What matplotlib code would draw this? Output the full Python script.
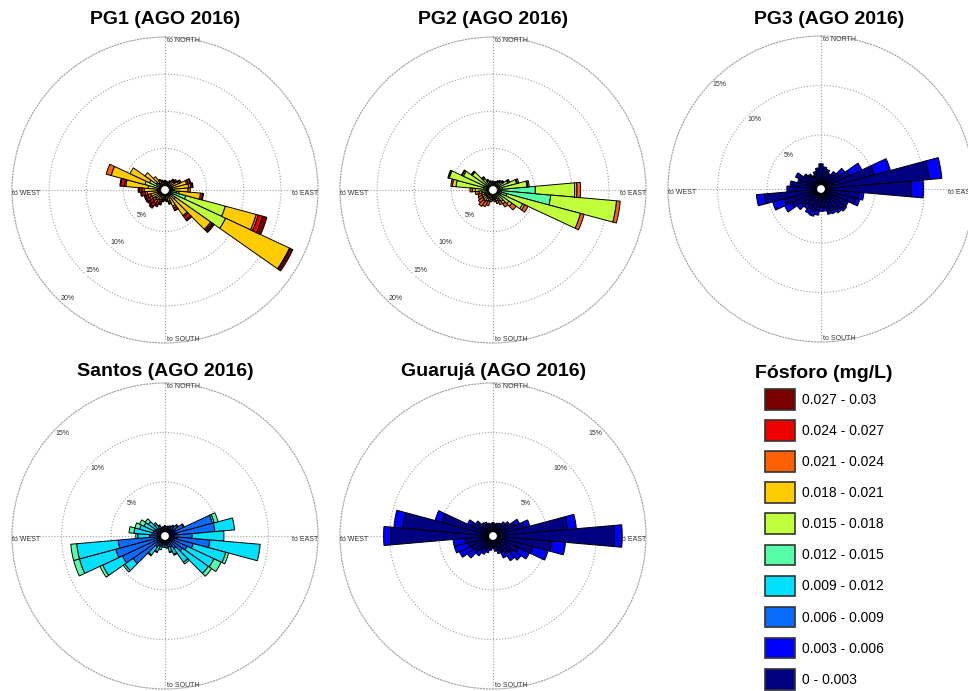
import numpy as np
import matplotlib
matplotlib.use('Agg')
import matplotlib.pyplot as plt
from matplotlib.patches import Patch

plt.rcParams['font.family'] = ['Liberation Sans', 'DejaVu Sans']

# phosphorus classes, low -> high
CLASS_LABELS = ['0 - 0.003', '0.003 - 0.006', '0.006 - 0.009', '0.009 - 0.012', '0.012 - 0.015',
                '0.015 - 0.018', '0.018 - 0.021', '0.021 - 0.024', '0.024 - 0.027', '0.027 - 0.03']
CLASS_COLORS = ['#000080', '#0000FF', '#0A6CFF', '#00E0FF', '#55FFAA',
                '#C0FF3C', '#FFCC00', '#FF6000', '#EE0000', '#7A0000']

# 36 sectors, compass degrees (direction "to")
DIRECTIONS = np.arange(0, 360, 10)

# frequency (%) per class and sector, one row per class used
PG1_CLASSES = [4, 5, 6, 7, 8, 9]
PG1 = [
    [0, 0, 0, 0, 0, 0, 0, 0, 0, 0.3, 1.0, 2.3, 0.5, 0.3, 0, 0, 0, 0,
     0, 0, 0, 0, 0, 0, 0, 0, 0, 0, 0.2, 0.2, 0.2, 0, 0, 0, 0, 0],
    [0.1, 0.1, 0.1, 0.1, 0.2, 0.2, 0.3, 0.4, 0.4, 0.3, 0.3, 5.5, 7.9, 0.8, 0.4, 0.2, 0.1, 0.1,
     0.1, 0.1, 0.2, 0.2, 0.2, 0.2, 0.3, 0.3, 0.4, 0.5, 1.5, 2.0, 1.5, 0.8, 0.5, 0.2, 0.1, 0.1],
    [0.4, 0.4, 0.3, 0.5, 0.7, 0.8, 1.1, 2.0, 2.2, 1.9, 2.9, 4.3, 9.5, 5.8, 3.2, 1.6, 0.9, 0.6,
     0.4, 0.5, 0.6, 0.7, 0.9, 0.8, 1.0, 1.1, 1.4, 1.7, 3.0, 4.7, 2.9, 1.9, 1.1, 0.7, 0.5, 0.4],
    [0.1, 0, 0.1, 0.1, 0.2, 0.2, 0.2, 0.2, 0.3, 0.3, 0, 0.3, 0, 0.2, 0.2, 0.3, 0.2, 0.1,
     0.1, 0.2, 0.3, 0.4, 0.5, 0.4, 0.4, 0.4, 0.3, 0.3, 0.2, 0.7, 0, 0, 0, 0.1, 0.1, 0.1],
    [0.1, 0.1, 0, 0.1, 0.1, 0.2, 0.2, 0.3, 0.2, 0, 0.3, 0.6, 0.1, 0.2, 0.5, 0.3, 0.1, 0.1,
     0.1, 0.1, 0.3, 0.4, 0.5, 0.5, 0.4, 0.3, 0.4, 0.4, 0.5, 0, 0, 0, 0, 0, 0.1, 0],
    [0, 0, 0, 0, 0, 0, 0, 0.1, 0.1, 0, 0.1, 0.6, 0.4, 0.2, 0.2, 0.1, 0.1, 0.1,
     0.1, 0.1, 0.1, 0.2, 0.3, 0.3, 0.2, 0.2, 0.2, 0.1, 0.1, 0, 0, 0, 0, 0, 0, 0],
]

PG2_CLASSES = [3, 4, 5, 6, 7]
PG2 = [
    [0, 0, 0, 0, 0, 0, 0, 0, 0.2, 0.3, 0.5, 0.3, 0, 0, 0, 0, 0, 0,
     0, 0, 0, 0, 0, 0, 0, 0, 0, 0, 0.2, 0.2, 0, 0, 0, 0, 0, 0],
    [0, 0, 0, 0, 0, 0, 0.2, 0.3, 0.5, 4.8, 6.7, 1.0, 0.5, 0, 0, 0, 0, 0,
     0, 0, 0, 0, 0, 0, 0, 0, 0, 0.3, 0.5, 0.5, 0.4, 0.2, 0, 0, 0, 0],
    [0.4, 0.3, 0.4, 0.6, 0.7, 1.0, 1.4, 2.4, 3.3, 5.3, 8.9, 10.3, 3.3, 2.0, 1.3, 0.8, 0.6, 0.5,
     0.4, 0.4, 0.6, 0.6, 0.6, 0.6, 0.6, 0.6, 0.9, 1.5, 3.7, 4.8, 3.4, 2.6, 1.3, 0.8, 0.5, 0.4],
    [0.1, 0.1, 0.1, 0.1, 0.1, 0.1, 0.1, 0.1, 0.1, 0.3, 0, 0, 0.3, 0.5, 0.4, 0.3, 0.3, 0.2,
     0.2, 0.3, 0.4, 0.5, 0.6, 0.5, 0.4, 0.4, 0.4, 0.4, 0.5, 0.1, 0.2, 0.1, 0.2, 0.1, 0.1, 0.1],
    [0.1, 0.1, 0.1, 0.1, 0.2, 0.1, 0.2, 0.2, 0.2, 0.5, 0.5, 0.5, 0.5, 0.7, 0.5, 0.5, 0.4, 0.3,
     0.2, 0.3, 0.6, 0.8, 0.9, 0.7, 0.6, 0.5, 0.5, 0.3, 0.2, 0.1, 0.1, 0.1, 0.1, 0.1, 0.1, 0.1],
]

PG3_CLASSES = [0, 1]
PG3 = [
    [1.9, 1.6, 1.3, 1.1, 1.4, 1.8, 2.7, 5.1, 10.5, 8.7, 3.4, 3.2, 2.3, 2.4, 2.2, 2.0, 1.9, 1.5,
     1.4, 1.7, 1.9, 1.8, 1.6, 2.0, 2.8, 3.4, 5.3, 2.7, 2.5, 1.8, 2.1, 1.5, 1.2, 1.0, 1.2, 1.5],
    [0.2, 0.2, 0.3, 0.2, 0.3, 0.7, 1.4, 1.7, 1.3, 1.2, 0.5, 0.4, 0.3, 0.3, 0.3, 0.3, 0.3, 0.3,
     0.4, 0.5, 0.5, 0.5, 0.4, 0.5, 0.8, 1.2, 0.8, 0.3, 0.2, 0.2, 0.3, 0.2, 0.2, 0.1, 0.2, 0.2],
]

SANTOS_CLASSES = [1, 2, 3, 4]
SANTOS = [
    [0.3, 0.3, 0.3, 0.3, 0.4, 0.5, 0.7, 0.6, 0.8, 0.5, 0.8, 0.5, 0.4, 0.4, 0.3, 0.3, 0.3, 0.2,
     0.2, 0.2, 0.3, 0.3, 0.3, 0.4, 0.4, 0.3, 0.3, 0.3, 0.3, 0.3, 0.3, 0.2, 0.2, 0.2, 0.2, 0.2],
    [0.2, 0.2, 0.3, 0.3, 0.4, 0.6, 0.9, 3.9, 3.8, 1.8, 3.3, 2.0, 1.6, 1.3, 0.8, 0.5, 0.4, 0.3,
     0.2, 0.2, 0.3, 0.4, 0.6, 3.1, 3.9, 4.4, 4.0, 0.8, 0.6, 0.5, 0.4, 0.4, 0.3, 0.2, 0.2, 0.2],
    [0.1, 0, 0, 0.1, 0.1, 0.1, 0.1, 0.2, 2.0, 3.2, 5.1, 3.4, 3.0, 3.2, 1.7, 0.8, 0.5, 0.3,
     0.3, 0.3, 0.4, 0.6, 1.0, 1.0, 2.2, 3.8, 4.2, 1.2, 1.8, 1.4, 1.2, 1.0, 0.5, 0.3, 0.1, 0.1],
    [0, 0, 0, 0, 0, 0, 0, 0.4, 0, 0, 0, 0.3, 0.8, 0.4, 0.2, 0.1, 0.1, 0,
     0, 0, 0, 0.1, 0.1, 0.2, 0.3, 0.6, 0.6, 0.2, 0.5, 0.5, 0.5, 0.4, 0.2, 0.1, 0, 0],
]

GUARUJA_CLASSES = [0, 1]
GUARUJA = [
    [0.7, 0.6, 0.7, 0.8, 1.0, 1.3, 2.0, 2.8, 7.1, 11.8, 5.5, 3.7, 2.4, 2.0, 1.8, 1.4, 1.0, 0.8,
     0.6, 0.7, 0.9, 1.1, 1.4, 1.8, 2.0, 2.2, 2.4, 9.9, 8.7, 4.9, 2.0, 1.4, 1.0, 0.9, 0.7, 0.6],
    [0.2, 0.2, 0.2, 0.2, 0.3, 0.3, 0.5, 0.6, 0.9, 0.8, 1.4, 1.6, 1.2, 1.0, 0.8, 0.6, 0.4, 0.3,
     0.2, 0.3, 0.4, 0.5, 0.6, 0.9, 1.3, 1.4, 1.2, 0.7, 0.9, 0.7, 0.4, 0.3, 0.2, 0.2, 0.2, 0.2],
]

PANELS = [
    # title, classes, rows, rmax, label direction, center x, center y, title x, title y (pixels)
    ('PG1 (AGO 2016)', PG1_CLASSES, PG1, 20, 222, 165, 190, 165, 19),
    ('PG2 (AGO 2016)', PG2_CLASSES, PG2, 20, 222, 493, 190, 493, 19),
    ('PG3 (AGO 2016)', PG3_CLASSES, PG3, 15, 316, 821, 189, 829, 19),
    ('Santos (AGO 2016)', SANTOS_CLASSES, SANTOS, 15, 315, 165, 536, 165, 372),
    ('Guarujá (AGO 2016)', GUARUJA_CLASSES, GUARUJA, 15, 45, 493, 536, 494, 372),
]

W, H = 968, 691
R = 153
GRID = '#a0a0a0'
fig = plt.figure(figsize=(W / 100, H / 100), dpi=100)


def draw_rose(ax, classes, rows, rmax, label_dir):
    theta = np.deg2rad(DIRECTIONS)
    bottom = np.zeros(len(DIRECTIONS))
    for c, vals in zip(classes, rows):
        vals = np.array(vals, dtype=float)
        keep = vals > 0
        ax.bar(theta[keep], vals[keep], width=np.deg2rad(10), bottom=bottom[keep],
               color=CLASS_COLORS[c], edgecolor='black', linewidth=0.7, zorder=3)
        bottom += vals

    ax.set_theta_zero_location('N')
    ax.set_theta_direction(-1)
    ax.set_ylim(0, rmax)
    ax.set_rorigin(-0.03 * rmax)
    ax.set_xticks(np.deg2rad([0, 90, 180, 270]))
    ax.set_xticklabels([])
    ax.set_yticks(np.arange(5, rmax, 5))
    ax.set_yticklabels([])
    ax.tick_params(length=0)
    ax.grid(True, color=GRID, linestyle=':', linewidth=0.8)
    ax.spines['polar'].set(linestyle=':', color=GRID, linewidth=0.8)
    if 'inner' in ax.spines:
        ax.spines['inner'].set_visible(False)

    for r in range(5, rmax + 1, 5):
        ax.text(np.deg2rad(label_dir), r - 0.05 * rmax, f'{r}%', fontsize=5, color='#333333',
                ha='center', va='center', zorder=2,
                bbox=dict(facecolor='white', edgecolor='none', pad=0.6))

    kw = dict(fontsize=5, color='#333333', zorder=4)
    ax.text(0, rmax, ' to NORTH', ha='left', va='top', **kw)
    ax.text(np.pi / 2, rmax, 'to EAST', ha='right', va='top', **kw)
    ax.text(np.pi, rmax, ' to SOUTH', ha='left', va='bottom', **kw)
    ax.text(3 * np.pi / 2, rmax, 'to WEST', ha='left', va='top', **kw)


for title, classes, rows, rmax, label_dir, cx, cy, tx, ty in PANELS:
    ax = fig.add_axes([(cx - R) / W, 1 - (cy + R) / H, 2 * R / W, 2 * R / H], projection='polar')
    draw_rose(ax, classes, rows, rmax, label_dir)
    fig.text(tx / W, 1 - ty / H, title, fontsize=14, fontweight='bold', ha='center', va='center')

# legend, highest class on top
handles = [Patch(facecolor=CLASS_COLORS[i], edgecolor='#333333', linewidth=1.2)
           for i in range(len(CLASS_LABELS) - 1, -1, -1)]
labels = CLASS_LABELS[::-1]
fig.text(755 / W, 1 - 373 / H, 'Fósforo (mg/L)', fontsize=14, fontweight='bold', ha='left', va='center')
fig.legend(handles, labels, loc='upper left', bbox_to_anchor=(765 / W, 1 - 389 / H),
           frameon=False, fontsize=10, handlelength=2.16, handleheight=1.9,
           handletextpad=0.5, labelspacing=0.76, borderpad=0, borderaxespad=0)

fig.savefig('out.png', dpi=100)
